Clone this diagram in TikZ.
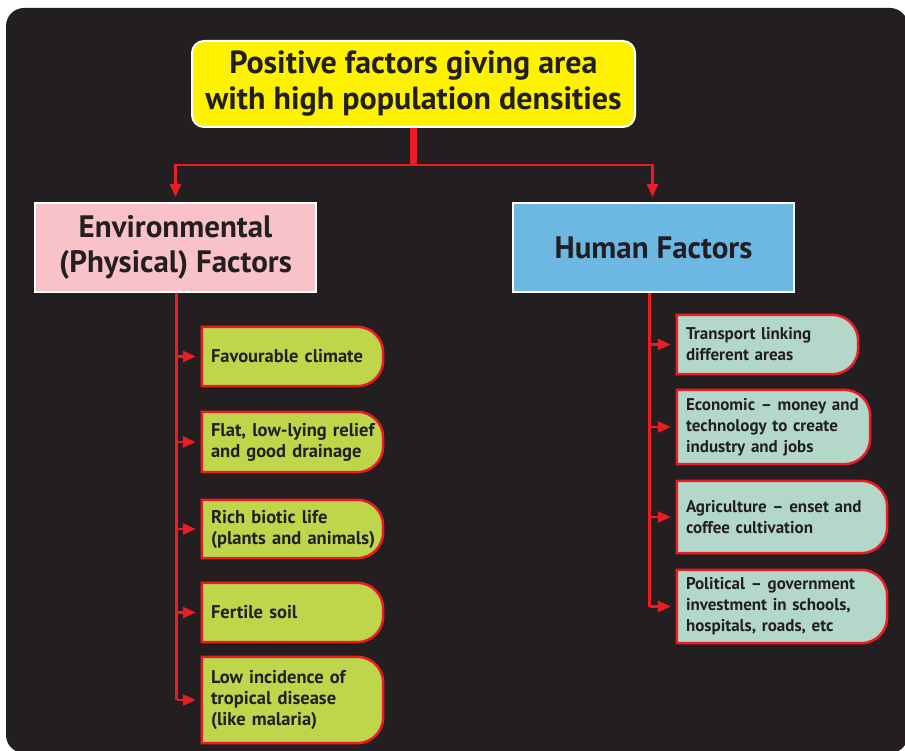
\documentclass[tikz,border=0pt]{standalone}
\usepackage{fontspec}
\setmainfont{PT Sans}
\usetikzlibrary{arrows.meta,backgrounds}
\definecolor{bgc}{HTML}{231F20}
\definecolor{txt}{HTML}{231F20}
\definecolor{yel}{HTML}{FFF200}
\definecolor{pinkc}{HTML}{F8C2C8}
\definecolor{bluec}{HTML}{6DB7E3}
\definecolor{limec}{HTML}{BDD64A}
\definecolor{mintc}{HTML}{B3D8CA}
\definecolor{redc}{HTML}{ED1C24}
\tikzset{
  box/.style={draw=white, line width=2pt, text=txt, align=center, inner sep=0pt},
  titlebox/.style={box, fill=yel, rounded corners=12pt, minimum width=443pt, minimum height=86pt,
    font=\fontsize{32}{36}\selectfont\bfseries},
  catbox/.style={box, minimum width=281pt, minimum height=89pt,
    font=\fontsize{31}{35}\selectfont\bfseries},
  leafL/.style={text=txt, align=left, inner xsep=9pt, inner ysep=0pt, text width=#1,
    font=\fontsize{18.5}{21}\selectfont\bfseries},
  leafR/.style={text=txt, align=left, inner xsep=9pt, inner ysep=0pt, text width=#1,
    font=\fontsize{17}{21}\selectfont\bfseries},
  leafshape/.style={draw=redc, line width=2.5pt},
  conn/.style={draw=redc, line width=2.5pt},
  tip/.style={-{Triangle[length=13pt,width=11pt]}, shorten >=6pt},
}
\newcommand{\leafpath}[3]{%
  \path[leafshape, fill=#3] (#1.north west) -- ([xshift=-#2]#1.north east)
    arc[start angle=90, end angle=0, radius=#2] -- ([yshift=#2]#1.south east)
    arc[start angle=0, end angle=-90, radius=#2] -- (#1.south west) -- cycle;}
\begin{document}
\begin{tikzpicture}[x=1pt,y=-1pt]
\useasboundingbox (0,0) rectangle (905,751);

\node[titlebox] (title) at (413.5,84) {Positive factors giving area\\with high population densities};
\node[catbox, fill=pinkc] (env) at (175.5,247.5) {Environmental\\(Physical) Factors};
\node[catbox, fill=bluec] (hum) at (653.5,247.5) {Human Factors};

\node[leafL=163pt, minimum height=59pt] (l1) at (292.5,356.5) {Favourable climate};
\node[leafL=163pt, minimum height=60pt] (l2) at (292.5,442) {\mbox{Flat, low-lying relief}\\and good drainage};
\node[leafL=163pt, minimum height=58pt] (l3) at (292.5,529) {Rich biotic life\\\mbox{(plants and animals)}};
\node[leafL=163pt, minimum height=59pt] (l4) at (292.5,612.5) {Fertile soil};
\node[leafL=163pt, minimum height=86pt] (l5) at (292.5,700) {Low incidence of\\tropical disease\\(like malaria)};

\node[leafR=163pt, minimum height=59pt] (r1) at (767.5,344.5) {Transport linking\\different areas};
\node[leafR=175pt, minimum height=74pt] (r2) at (773.5,427) {\mbox{Economic -- money and}\\technology to create\\industry and jobs};
\node[leafR=192pt, minimum height=72pt] (r3) at (782,517) {Agriculture -- enset and\\coffee cultivation};
\node[leafR=192pt, minimum height=73pt] (r4) at (782,606.5) {Political -- government\\investment in schools,\\hospitals, roads, etc};

\begin{scope}[on background layer]
  \fill[bgc, rounded corners=18pt] (6,8) rectangle (908,753);
  \foreach \n in {l1,l2,l3,l4,l5} {\leafpath{\n}{26pt}{limec}}
  \foreach \n in {r1,r2,r3,r4} {\leafpath{\n}{26pt}{mintc}}
\end{scope}

\coordinate (j) at (413.5,165);
\draw[redc, line width=7pt] (title.south) -- ([yshift=-1.5pt]j);
\draw[conn, tip, shorten >=5pt] (j) -| (env.north);
\draw[conn, tip, shorten >=5pt] (j) -| ([xshift=-1pt]hum.north);

\coordinate (lt) at ([xshift=1pt]env.south);
\draw[conn] (lt) -- (lt |- l5.west);
\foreach \n in {l1,l2,l3,l4,l5} {\draw[conn, tip] (lt |- \n.west) -- (\n.west);}

\coordinate (rt) at ([xshift=-4pt]hum.south);
\draw[conn] (rt) -- (rt |- r4.west);
\foreach \n in {r1,r2,r3,r4} {\draw[conn, tip] (rt |- \n.west) -- (\n.west);}
\end{tikzpicture}
\end{document}
